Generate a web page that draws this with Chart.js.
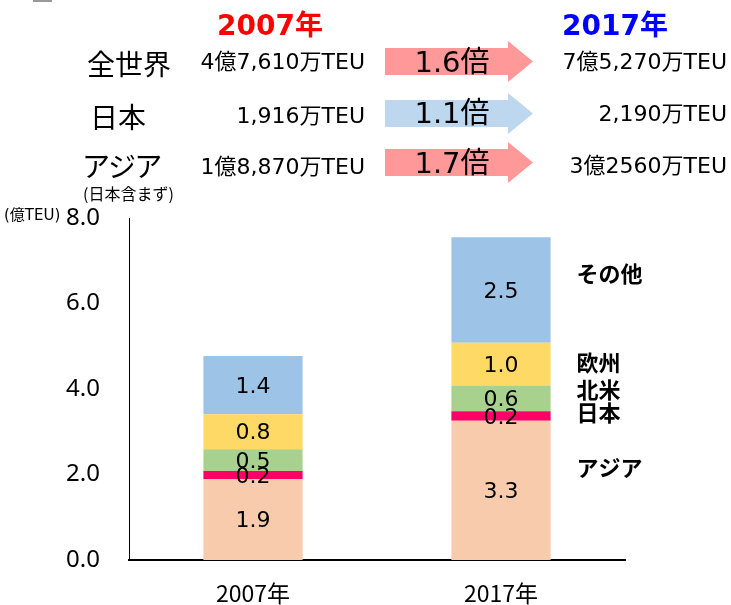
<!DOCTYPE html>
<html>
<head>
<meta charset="utf-8">
<script src="https://cdn.jsdelivr.net/npm/chart.js@4.4.0/dist/chart.umd.min.js"></script>
<style>
    body { margin: 0; background: #fff; }
    #wrap { position: relative; width: 731px; height: 605px; overflow: hidden; font-family: "DejaVu Sans", "Noto Sans CJK JP", sans-serif; color: #000; }
    #wrap canvas { position: absolute; left: 0; top: 0; }
    .t { position: absolute; height: 40px; line-height: 40px; white-space: nowrap; }
    .mark { position: absolute; left: 33px; top: 0; width: 19px; height: 2px; background: #999; }
    .year { font-weight: bold; font-size: 28px; }
    .region { font-family: "Noto Sans CJK JP", sans-serif; font-size: 28px; font-feature-settings: "palt"; }
    .num { font-size: 22px; text-align: right; }
    .arrow { position: absolute; width: 148px; height: 41px; left: 385px;
             clip-path: polygon(0 7px, 123px 7px, 123px 0, 148px 20.5px, 123px 41px, 123px 34px, 0 34px); }
    .rate { font-size: 29px; text-align: center; width: 110px; left: 397px; }
</style>
</head>
<body>
<div id="wrap">
    <canvas id="teuChart" width="731" height="605"></canvas>

    <div class="mark"></div>
    <div class="t year" style="left:217px; top:6px; color:#ff0000;">2007年</div>
    <div class="t year" style="left:562px; top:6px; color:#0000ff;">2017年</div>

    <div class="t region" style="left:87px; top:43px;">全世界</div>
    <div class="t region" style="left:90px; top:96px;">日本</div>
    <div class="t region" style="left:83px; top:145px;">アジア</div>
    <div class="t" style="left:83px; top:173px; font-size:16px; font-family:'Noto Sans CJK JP';">(日本含まず)</div>

    <div class="t num" style="right:366px; top:42px;">4億7,610万TEU</div>
    <div class="t num" style="right:366px; top:96px;">1,916万TEU</div>
    <div class="t num" style="right:366px; top:147px;">1億8,870万TEU</div>

    <div class="arrow" style="top:41px; background:#ff9999;"></div>
    <div class="arrow" style="top:93px; background:#bdd7ee;"></div>
    <div class="arrow" style="top:142px; background:#ff9999;"></div>
    <div class="t rate" style="top:42px;">1.6倍</div>
    <div class="t rate" style="top:93px;">1.1倍</div>
    <div class="t rate" style="top:143px;">1.7倍</div>

    <div class="t num" style="right:4px; top:42px;">7億5,270万TEU</div>
    <div class="t num" style="right:4px; top:94px;">2,190万TEU</div>
    <div class="t num" style="right:4px; top:146px;">3億2560万TEU</div>

    <div class="t" style="left:4px; top:195px; font-size:15px;">(億TEU)</div>
</div>

<script>
// DATA (億TEU)
const years = ['2007年', '2017年'];
const regionNames = ['アジア', '日本', '北米', '欧州', 'その他'];
const asia = [1.89, 3.26];
const japan = [0.19, 0.22];
const northAmerica = [0.51, 0.6];
const europe = [0.82, 1.0];
const others = [1.36, 2.47];
const yTicks = [0, 2, 4, 6, 8];

// where the region names sit beside the 2017 bar, in axis units
const regionLabelAt = [2.15, 3.44, 3.98, 4.61, 6.71];

const colors = ['#f8cbad', '#ff0066', '#a9d18e', '#ffd966', '#9dc3e6'];

// value labels inside each segment
const segmentLabels = {
    id: 'segmentLabels',
    afterDatasetsDraw(chart) {
        const ctx = chart.ctx;
        ctx.save();
        ctx.font = '22px "DejaVu Sans"';
        ctx.fillStyle = '#000';
        ctx.textAlign = 'center';
        ctx.textBaseline = 'middle';
        chart.data.datasets.forEach((ds, i) => {
            chart.getDatasetMeta(i).data.forEach((bar, j) => {
                ctx.fillText(ds.data[j].toFixed(1), bar.x, (bar.y + bar.base) / 2 + 2);
            });
        });
        ctx.restore();
    }
};

// region names to the right of the last bar
const regionLabels = {
    id: 'regionLabels',
    afterDatasetsDraw(chart) {
        const ctx = chart.ctx;
        const y = chart.scales.y;
        const lastBar = chart.getDatasetMeta(0).data[years.length - 1];
        const x = lastBar.x + lastBar.width / 2 + 26;
        ctx.save();
        ctx.font = 'bold 22px "Noto Sans CJK JP"';
        ctx.fillStyle = '#000';
        ctx.textAlign = 'left';
        ctx.textBaseline = 'middle';
        regionNames.forEach((name, i) => {
            ctx.fillText(name, x, y.getPixelForValue(regionLabelAt[i]));
        });
        ctx.restore();
    }
};

const series = [asia, japan, northAmerica, europe, others];

new Chart(document.getElementById('teuChart'), {
    type: 'bar',
    data: {
        labels: years,
        datasets: series.map((values, i) => ({
            label: regionNames[i],
            data: values,
            backgroundColor: colors[i],
            borderWidth: 0,
            barPercentage: 0.4,
            categoryPercentage: 1.0
        }))
    },
    options: {
        responsive: false,
        animation: false,
        layout: { padding: { top: 218, right: 106, bottom: 0, left: 0 } },
        plugins: {
            legend: { display: false },
            tooltip: { enabled: false }
        },
        scales: {
            x: {
                stacked: true,
                grid: { display: false, drawTicks: false },
                border: { display: true, color: '#000', width: 2 },
                ticks: {
                    color: '#000',
                    padding: 19,
                    font: { family: '"Noto Sans CJK JP"', size: 23 }
                },
                afterFit: s => { s.height = 45; }
            },
            y: {
                stacked: true,
                min: 0,
                max: 8,
                afterBuildTicks: s => { s.ticks = yTicks.map(v => ({ value: v })); },
                grid: { display: false, drawTicks: false },
                border: { display: true, color: '#000', width: 1 },
                ticks: {
                    color: '#000',
                    padding: 29,
                    font: { family: '"Noto Sans"', size: 24 },
                    callback: v => v.toFixed(1)
                },
                afterFit: s => { s.width = 129; }
            }
        }
    },
    plugins: [segmentLabels, regionLabels]
});
</script>
</body>
</html>
